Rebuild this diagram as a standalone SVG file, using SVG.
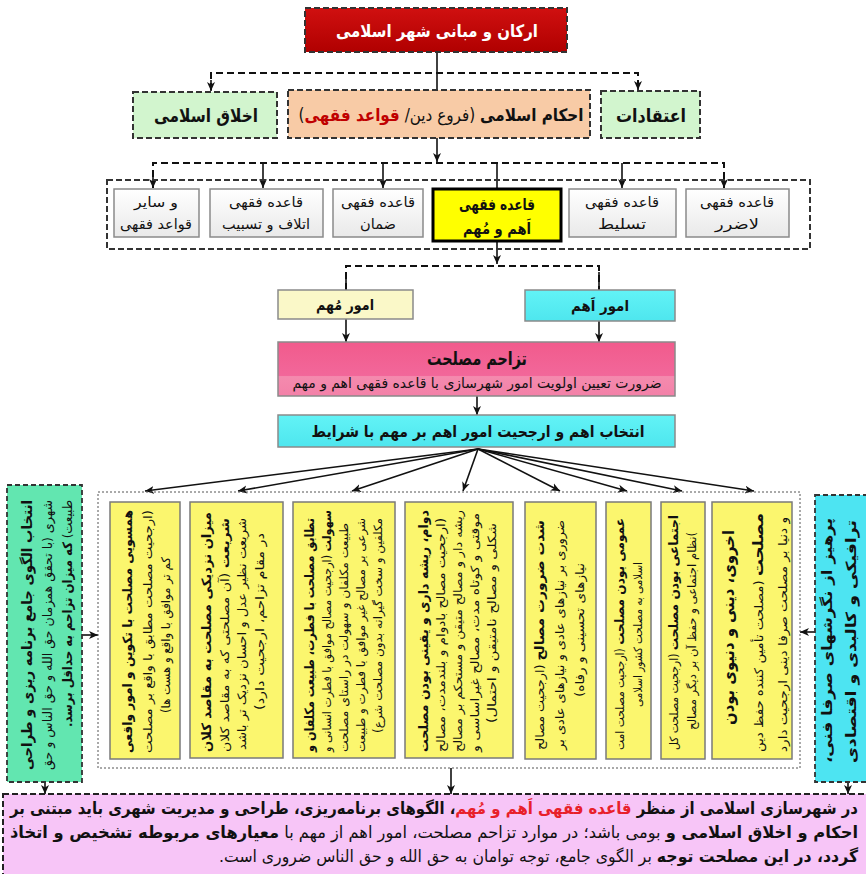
<svg xmlns="http://www.w3.org/2000/svg" width="866" height="874" viewBox="0 0 866 874">
<defs>
  <marker id="ah" markerWidth="10" markerHeight="10" refX="9" refY="5" orient="auto" markerUnits="userSpaceOnUse">
    <path d="M0,1 L9,5 L0,9 L2.5,5 z" fill="#111"/>
  </marker>
  <linearGradient id="gRed" x1="0" y1="0" x2="0" y2="1"><stop offset="0" stop-color="#D01010"/><stop offset="1" stop-color="#B00000"/></linearGradient>
  <linearGradient id="gGray" x1="0" y1="0" x2="0" y2="1"><stop offset="0" stop-color="#FFFFFF"/><stop offset="1" stop-color="#E9E9E9"/></linearGradient>
  <linearGradient id="gPink" x1="0" y1="0" x2="0" y2="1"><stop offset="0" stop-color="#F15B8C"/><stop offset="0.62" stop-color="#F2679A"/><stop offset="0.64" stop-color="#F48AAE"/><stop offset="1" stop-color="#F381A8"/></linearGradient>
  <linearGradient id="gCyan" x1="0" y1="0" x2="0" y2="1"><stop offset="0" stop-color="#62F3F6"/><stop offset="1" stop-color="#4EE6EE"/></linearGradient>
</defs>
<style>
  text { font-family: "DejaVu Sans", "Noto Sans", sans-serif; direction: rtl; fill: #111; }
  .b { font-weight: bold; }
  .n { font-weight: normal; }
  .dbox { stroke: #333; stroke-width: 2; stroke-dasharray: 6 3; }
  .rule { fill: url(#gGray); stroke: #8a8a8a; stroke-width: 1.5; }
  .col { fill: #FBF66E; stroke: #7a7a7a; stroke-width: 1.5; }
  .ln { fill: none; stroke: #111; stroke-width: 1.6; }
  .dl { fill: none; stroke: #111; stroke-width: 2; stroke-dasharray: 7 4; }
  .arr { marker-end: url(#ah); }
</style>

<rect width="866" height="874" fill="#FFFFFF"/>

<!-- connectors -->
<g id="connectors">
  <line class="ln" x1="437" y1="52" x2="437" y2="90"/>
  <polyline class="dl" points="211,90 211,73 638,73 638,90"/>
  <line class="ln arr" x1="211" y1="80" x2="211" y2="91"/>
  <line class="ln arr" x1="638" y1="80" x2="638" y2="90"/>

  <line class="ln arr" x1="437" y1="138" x2="437" y2="162"/>
  <polyline class="dl" points="153,188 153,163 724,163 724,188"/>
  <line class="ln arr" x1="153" y1="172" x2="153" y2="188"/>
  <line class="ln arr" x1="263" y1="163" x2="263" y2="188"/>
  <line class="ln arr" x1="383" y1="163" x2="383" y2="188"/>
  <line class="ln" x1="497" y1="163" x2="497" y2="189"/>
  <line class="ln arr" x1="622" y1="163" x2="622" y2="188"/>
  <line class="ln arr" x1="724" y1="172" x2="724" y2="188"/>

  <line class="ln arr" x1="497" y1="241" x2="497" y2="264"/>
  <polyline class="dl" points="346,290 346,266 599,266 599,290"/>
  <line class="ln" x1="346" y1="272" x2="346" y2="290"/>
  <line class="ln" x1="599" y1="272" x2="599" y2="290"/>

  <line class="ln arr" x1="346" y1="319" x2="346" y2="342"/>
  <line class="ln arr" x1="599" y1="321" x2="599" y2="342"/>
  <line class="ln arr" x1="477" y1="396" x2="477" y2="415"/>

  <line class="ln arr" x1="478" y1="449" x2="145" y2="491"/>
  <line class="ln arr" x1="478" y1="449" x2="238" y2="491"/>
  <line class="ln arr" x1="478" y1="449" x2="352" y2="491"/>
  <line class="ln arr" x1="478" y1="449" x2="463" y2="491"/>
  <line class="ln arr" x1="478" y1="449" x2="560" y2="491"/>
  <line class="ln arr" x1="478" y1="449" x2="627" y2="491"/>
  <line class="ln arr" x1="478" y1="449" x2="682" y2="491"/>
  <line class="ln arr" x1="478" y1="449" x2="754" y2="491"/>

  <line class="ln arr" x1="82" y1="635" x2="98" y2="635"/>
  <line class="ln arr" x1="815" y1="632" x2="800" y2="632"/>
  <line class="ln arr" x1="45" y1="782" x2="45" y2="794"/>
  <line class="ln arr" x1="848" y1="782" x2="848" y2="794"/>
  <line class="ln arr" x1="451" y1="768" x2="451" y2="794"/>
</g>

<!-- level 1 -->
<g id="title">
  <rect class="dbox" x="305" y="8" width="262" height="44" fill="url(#gRed)"/>
  <text x="437" y="37" text-anchor="middle" class="b" font-size="17" fill="#FFFFFF" style="fill:#FFFFFF" textLength="202" lengthAdjust="spacingAndGlyphs">ارکان و مبانی شهر اسلامی</text>
</g>

<!-- level 2 -->
<g id="akhlagh">
  <rect class="dbox" x="133" y="92" width="144" height="46" fill="#D2F5CE"/>
  <text x="206" y="122" text-anchor="middle" class="b" font-size="18" textLength="104" lengthAdjust="spacingAndGlyphs">اخلاق اسلامی</text>
</g>
<g id="ahkam">
  <rect class="dbox" x="288" y="90" width="302" height="48" fill="#F8CBA6"/>
  <text x="441" y="121" text-anchor="middle" font-size="17" textLength="285" lengthAdjust="spacingAndGlyphs"><tspan class="b">احکام اسلامی</tspan> (فروع دین/ <tspan class="b" style="fill:#C00000">قواعد فقهی</tspan>)</text>
</g>
<g id="etghadat">
  <rect class="dbox" x="601" y="91" width="99" height="47" fill="#D2F5CE"/>
  <text x="651" y="122" text-anchor="middle" class="b" font-size="18" textLength="70" lengthAdjust="spacingAndGlyphs">اعتقادات</text>
</g>

<!-- level 3 -->
<g id="rules-container">
  <rect x="107" y="180" width="703" height="69" fill="none" class="dbox"/>
</g>
<g id="r-sayer">
  <rect class="rule" x="114" y="189" width="85" height="48"/>
  <text x="156" y="207" text-anchor="middle" font-size="14" textLength="44" lengthAdjust="spacingAndGlyphs">و سایر</text>
  <text x="156" y="229" text-anchor="middle" font-size="14" textLength="72" lengthAdjust="spacingAndGlyphs">قواعد فقهی</text>
</g>
<g id="r-etlaf">
  <rect class="rule" x="210" y="189" width="113" height="48"/>
  <text x="266" y="207" text-anchor="middle" font-size="14" textLength="74" lengthAdjust="spacingAndGlyphs">قاعده فقهی</text>
  <text x="266" y="229" text-anchor="middle" font-size="14" textLength="88" lengthAdjust="spacingAndGlyphs">اتلاف و تسبیب</text>
</g>
<g id="r-zaman">
  <rect class="rule" x="333" y="189" width="90" height="48"/>
  <text x="378" y="207" text-anchor="middle" font-size="14" textLength="74" lengthAdjust="spacingAndGlyphs">قاعده فقهی</text>
  <text x="378" y="229" text-anchor="middle" font-size="14" textLength="36" lengthAdjust="spacingAndGlyphs">ضمان</text>
</g>
<g id="r-aham">
  <rect x="433" y="189" width="128" height="52" fill="#FFFF00" stroke="#000" stroke-width="3"/>
  <text x="497" y="210" text-anchor="middle" class="b" font-size="16" textLength="76" lengthAdjust="spacingAndGlyphs">قاعده فقهی</text>
  <text x="497" y="234" text-anchor="middle" class="b" font-size="16" textLength="68" lengthAdjust="spacingAndGlyphs">اَهم و مُهم</text>
</g>
<g id="r-taslit">
  <rect class="rule" x="569" y="189" width="107" height="48"/>
  <text x="622" y="207" text-anchor="middle" font-size="14" textLength="74" lengthAdjust="spacingAndGlyphs">قاعده فقهی</text>
  <text x="622" y="229" text-anchor="middle" font-size="14" textLength="48" lengthAdjust="spacingAndGlyphs">تسلیط</text>
</g>
<g id="r-lazarar">
  <rect class="rule" x="686" y="189" width="103" height="48"/>
  <text x="737" y="207" text-anchor="middle" font-size="14" textLength="74" lengthAdjust="spacingAndGlyphs">قاعده فقهی</text>
  <text x="737" y="229" text-anchor="middle" font-size="14" textLength="44" lengthAdjust="spacingAndGlyphs">لاضرر</text>
</g>

<!-- level 4 -->
<g id="omur-mohem">
  <rect x="278" y="290" width="135" height="29" fill="#FAF8C8" stroke="#8a8a8a" stroke-width="1.5"/>
  <text x="345" y="310" text-anchor="middle" class="b" font-size="15" textLength="58" lengthAdjust="spacingAndGlyphs">امور مُهم</text>
</g>
<g id="omur-aham">
  <rect x="525" y="290" width="150" height="31" fill="url(#gCyan)" stroke="#8a8a8a" stroke-width="1.5"/>
  <text x="600" y="311" text-anchor="middle" class="b" font-size="15" textLength="58" lengthAdjust="spacingAndGlyphs">امور اَهم</text>
</g>

<g id="tazahom">
  <rect x="278" y="342" width="397" height="54" fill="url(#gPink)" stroke="#8a8a8a" stroke-width="1.5"/>
  <text x="477" y="365" text-anchor="middle" class="b" font-size="19" textLength="100" lengthAdjust="spacingAndGlyphs">تزاحم مصلحت</text>
  <text x="477" y="388" text-anchor="middle" font-size="14" textLength="369" lengthAdjust="spacingAndGlyphs">ضرورت تعیین اولویت امور شهرسازی با قاعده فقهی اهم و مهم</text>
</g>

<g id="entekhab">
  <rect x="278" y="415" width="397" height="32" fill="url(#gCyan)" stroke="#8a8a8a" stroke-width="1.5"/>
  <text x="478" y="437" text-anchor="middle" class="b" font-size="16" textLength="333" lengthAdjust="spacingAndGlyphs">انتخاب اهم و ارجحیت امور اهم بر مهم با شرایط</text>
</g>

<!-- criteria columns -->
<g id="criteria-container">
  <rect x="98" y="492" width="702" height="276" fill="none" stroke="#555" stroke-width="1" stroke-dasharray="2 2"/>
</g>

<g id="c1">
  <rect class="col" x="110" y="502" width="70" height="257"/>
  <g transform="rotate(-90)" font-size="12">
    <text x="-631.5" y="132" text-anchor="middle" class="b" font-size="13" textLength="243" lengthAdjust="spacingAndGlyphs">همسویی مصلحت با تکوین و امور واقعی</text>
    <text x="-631.5" y="152" text-anchor="middle" textLength="243" lengthAdjust="spacingAndGlyphs">(ارجحیت مصلحت مطابق با واقع بر مصلحت</text>
    <text x="-635" y="170" text-anchor="middle" textLength="156" lengthAdjust="spacingAndGlyphs">کم تر موافق با واقع و هست ها)</text>
  </g>
</g>

<g id="c2">
  <rect class="col" x="190" y="502" width="93" height="256"/>
  <g transform="rotate(-90)" font-size="12">
    <text x="-632" y="211" text-anchor="middle" class="b" font-size="13" textLength="240" lengthAdjust="spacingAndGlyphs">میزان نزدیکی مصلحت به مقاصد کلان</text>
    <text x="-635" y="229" text-anchor="middle" textLength="234" lengthAdjust="spacingAndGlyphs"><tspan class="b">شریعت</tspan> (آن مصلحتی که به مقاصد کلان</text>
    <text x="-634" y="246" text-anchor="middle" textLength="232" lengthAdjust="spacingAndGlyphs">شریعت نظیر عدل و احسان نزدیک تر باشد</text>
    <text x="-621.5" y="264" text-anchor="middle" textLength="177" lengthAdjust="spacingAndGlyphs">در مقام تزاحم، ارجحیت دارد)</text>
  </g>
</g>

<g id="c3">
  <rect class="col" x="293" y="502" width="102" height="256"/>
  <g transform="rotate(-90)" font-size="11.5">
    <text x="-635" y="314" text-anchor="middle" class="b" font-size="13" textLength="234" lengthAdjust="spacingAndGlyphs">تطابق مصلحت با فطرت، طبیعت مکلفان و</text>
    <text x="-631" y="331" text-anchor="middle" textLength="242" lengthAdjust="spacingAndGlyphs"><tspan class="b">سهولت</tspan> (ارجحیت مصالح موافق با فطرت انسانی و</text>
    <text x="-637.5" y="348" text-anchor="middle" textLength="229" lengthAdjust="spacingAndGlyphs">طبیعت مکلفان و سهولت در راستای مصلحت</text>
    <text x="-635" y="365" text-anchor="middle" textLength="234" lengthAdjust="spacingAndGlyphs">شرعی بر مصالح غیر موافق با فطرت و طبیعت</text>
    <text x="-625.5" y="382" text-anchor="middle" textLength="215" lengthAdjust="spacingAndGlyphs">مکلفین و سخت گیرانه بدون مصلحت شرع)</text>
  </g>
</g>

<g id="c4">
  <rect class="col" x="405" y="502" width="108" height="256"/>
  <g transform="rotate(-90)" font-size="11.5">
    <text x="-631" y="428" text-anchor="middle" class="b" font-size="13" textLength="242" lengthAdjust="spacingAndGlyphs">دوام، ریشه داری و یقینی بودن مصلحت</text>
    <text x="-635" y="445" text-anchor="middle" textLength="234" lengthAdjust="spacingAndGlyphs">(ارجحیت مصالح بادوام و بلندمدت، مصالح</text>
    <text x="-631" y="462" text-anchor="middle" textLength="242" lengthAdjust="spacingAndGlyphs">ریشه دار و مصالح متیقن و مستحکم بر مصالح</text>
    <text x="-632.5" y="479" text-anchor="middle" textLength="239" lengthAdjust="spacingAndGlyphs">موقتی و کوتاه مدت، مصالح غیراساسی و</text>
    <text x="-623" y="496" text-anchor="middle" textLength="200" lengthAdjust="spacingAndGlyphs">شکلی و مصالح نامتیقن و احتمال)</text>
  </g>
</g>

<g id="c5">
  <rect class="col" x="525" y="502" width="71" height="257"/>
  <g transform="rotate(-90)" font-size="12">
    <text x="-635" y="544" text-anchor="middle" textLength="230" lengthAdjust="spacingAndGlyphs"><tspan class="b" font-size="13">شدت ضرورت مصالح</tspan> (ارجحیت مصالح</text>
    <text x="-635" y="564" text-anchor="middle" textLength="230" lengthAdjust="spacingAndGlyphs">ضروری بر نیازهای عادی و نیازهای عادی بر</text>
    <text x="-630" y="584" text-anchor="middle" textLength="134" lengthAdjust="spacingAndGlyphs">نیازهای تحسینی و رفاه)</text>
  </g>
</g>

<g id="c6">
  <rect class="col" x="606" y="502" width="45" height="257"/>
  <g transform="rotate(-90)" font-size="11.5">
    <text x="-634" y="624" text-anchor="middle" textLength="232" lengthAdjust="spacingAndGlyphs"><tspan class="b" font-size="13">عمومی بودن مصلحت</tspan> (ارجحیت مصلحت امت</text>
    <text x="-634.5" y="642" text-anchor="middle" textLength="145" lengthAdjust="spacingAndGlyphs">اسلامی به مصلحت کشور اسلامی</text>
  </g>
</g>

<g id="c7">
  <rect class="col" x="661" y="502" width="44" height="257"/>
  <g transform="rotate(-90)" font-size="11.5">
    <text x="-632.5" y="678" text-anchor="middle" textLength="235" lengthAdjust="spacingAndGlyphs"><tspan class="b" font-size="13">اجتماعی بودن مصلحت</tspan> (ارجحیت مصلحت کل</text>
    <text x="-631" y="696" text-anchor="middle" textLength="198" lengthAdjust="spacingAndGlyphs">)نظام اجتماعی و حفظ آن بر دیگر مصالح</text>
  </g>
</g>

<g id="c8">
  <rect class="col" x="712" y="502" width="80" height="257"/>
  <g transform="rotate(-90)" font-size="12">
    <text x="-627.5" y="734" text-anchor="middle" class="b" font-size="16" textLength="195" lengthAdjust="spacingAndGlyphs">اخروی، دینی و دنیوی بودن</text>
    <text x="-632.5" y="763" text-anchor="middle" textLength="239" lengthAdjust="spacingAndGlyphs"><tspan class="b" font-size="15">مصلحت</tspan> (مصلحت تأمین کننده حفظ دین</text>
    <text x="-634.5" y="787" text-anchor="middle" textLength="235" lengthAdjust="spacingAndGlyphs">و دنیا بر مصلحت صرفا دینی ارجحیت دارد</text>
  </g>
</g>

<!-- side boxes -->
<g id="left-box">
  <rect x="7" y="485" width="75" height="297" fill="#62E6B0" stroke="#333" stroke-width="1.8" stroke-dasharray="5 3"/>
  <g transform="rotate(-90)" font-size="13">
    <text x="-635" y="32" text-anchor="middle" class="b" font-size="14" textLength="270" lengthAdjust="spacingAndGlyphs">انتخاب الگوی جامع برنامه ریزی و طراحی</text>
    <text x="-635" y="52" text-anchor="middle" textLength="270" lengthAdjust="spacingAndGlyphs">شهری (با تحقق همزمان حق الله و حق الناس و حق</text>
    <text x="-613.5" y="72" text-anchor="middle" textLength="227" lengthAdjust="spacingAndGlyphs">طبیعت) <tspan class="b">که میزان تزاحم به حداقل برسد.</tspan></text>
  </g>
</g>

<g id="right-box">
  <rect x="815" y="495" width="54" height="287" fill="#4DE4F2" stroke="#333" stroke-width="1.8" stroke-dasharray="5 3"/>
  <g transform="rotate(-90)" font-size="14">
    <text x="-640.5" y="832" text-anchor="middle" class="b" textLength="245" lengthAdjust="spacingAndGlyphs">پرهیز از نگرشهای صرفا فنی،</text>
    <text x="-641.5" y="856" text-anchor="middle" class="b" textLength="243" lengthAdjust="spacingAndGlyphs">ترافیکی و کالبدی و اقتصادی</text>
  </g>
</g>

<!-- conclusion -->
<g id="conclusion">
  <rect x="3" y="794" width="866" height="90" fill="#F7C5F7" stroke="#222" stroke-width="2" stroke-dasharray="6 3"/>
  <text x="434" y="814" text-anchor="middle" class="b" font-size="16.5" textLength="848" lengthAdjust="spacingAndGlyphs">در شهرسازی اسلامی از منظر <tspan style="fill:#E8202A">قاعده فقهی اَهم و مُهم</tspan>، الگوهای برنامه‌ریزی، طراحی و مدیریت شهری باید مبتنی بر</text>
  <text x="434" y="838" text-anchor="middle" font-size="16.5" textLength="848" lengthAdjust="spacingAndGlyphs"><tspan class="b">احکام و اخلاق اسلامی و</tspan> بومی باشد؛ در موارد تزاحم مصلحت، امور اهم از مهم با <tspan class="b">معیارهای مربوطه تشخیص و اتخاذ</tspan></text>
  <text x="538.5" y="862" text-anchor="middle" font-size="16.5" textLength="639" lengthAdjust="spacingAndGlyphs"><tspan class="b">گردد، در این مصلحت توجه</tspan> بر الگوی جامع، توجه توامان به حق الله و حق الناس ضروری است.</text>
</g>
</svg>
